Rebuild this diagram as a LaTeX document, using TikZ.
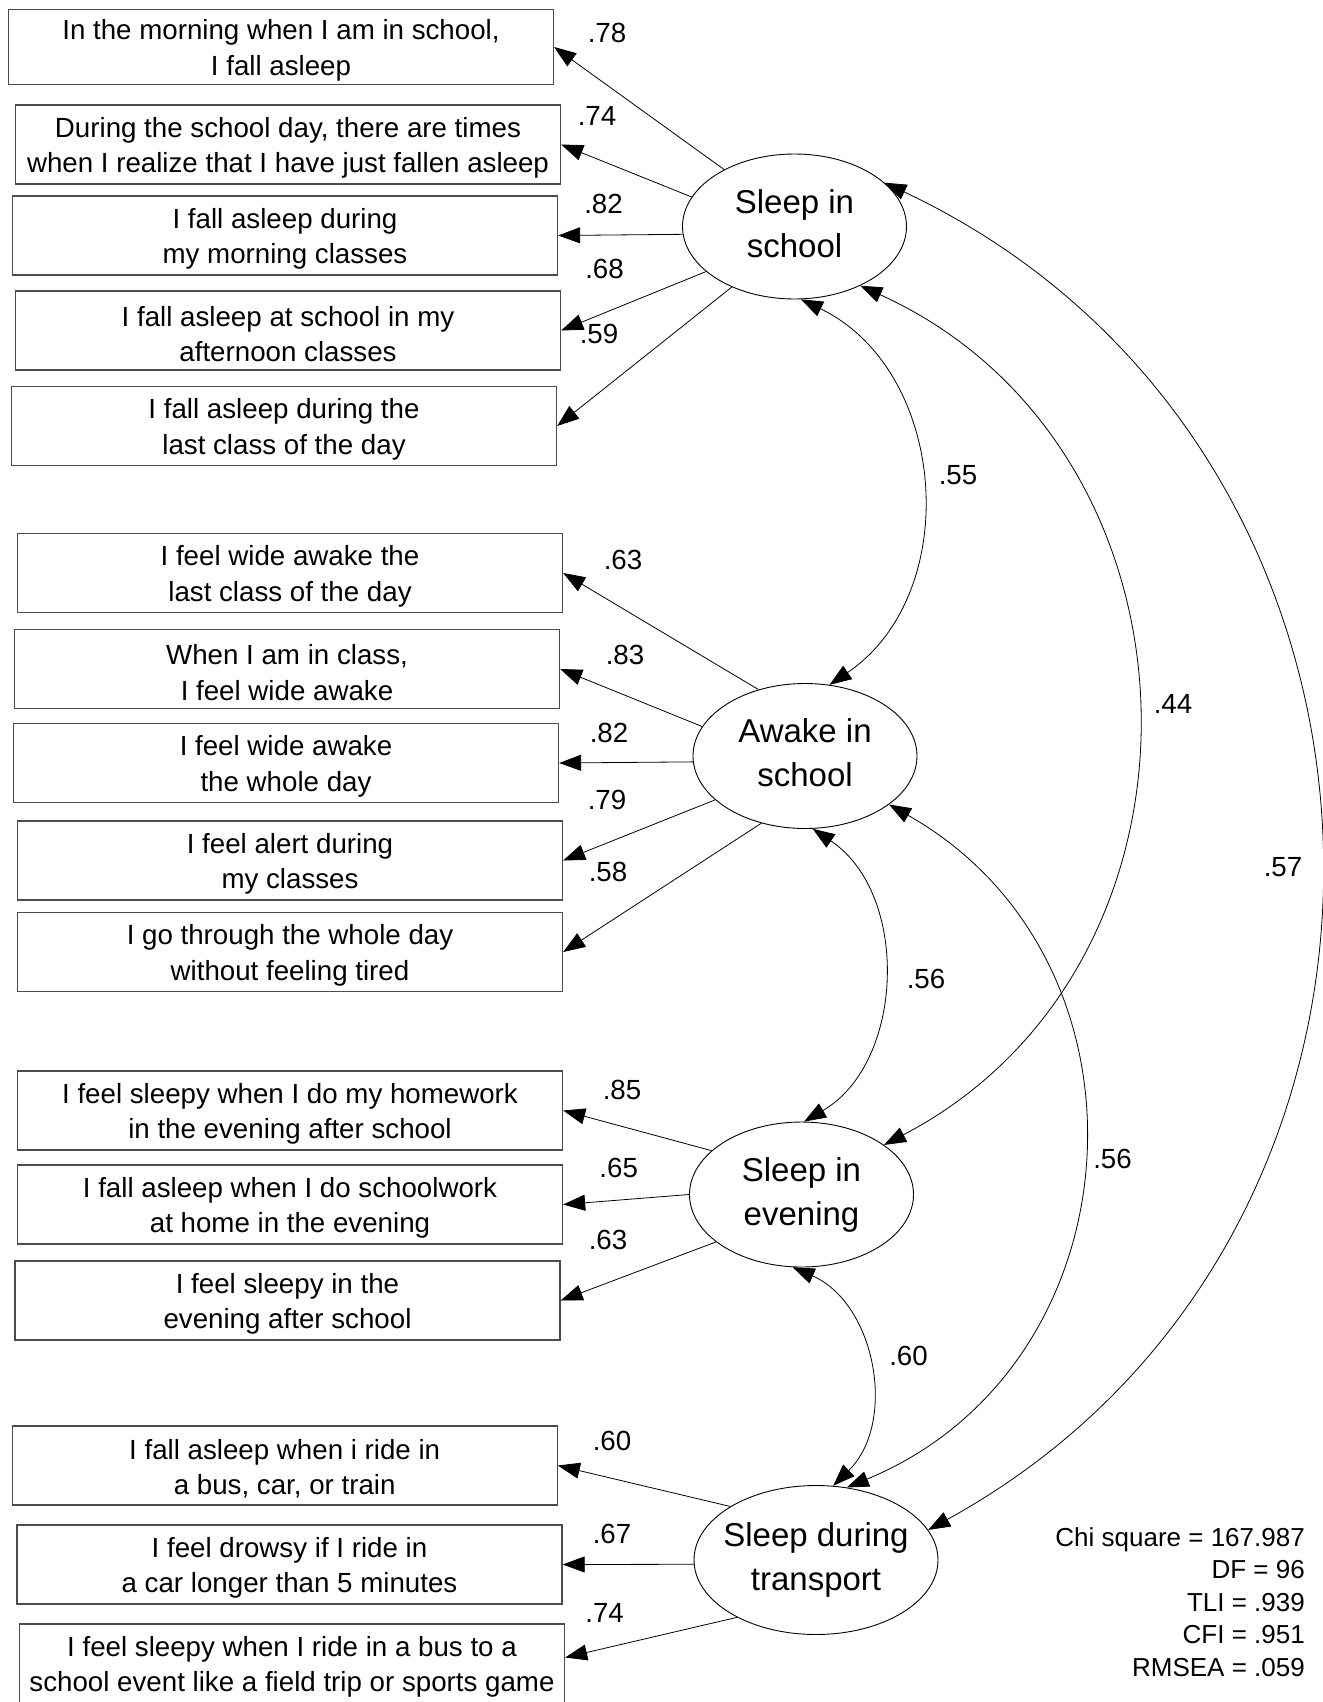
\documentclass[tikz,border=0pt]{standalone}
\usepackage{fontspec}
\setmainfont{Liberation Sans}
\usetikzlibrary{arrows.meta,shapes.geometric}
\newcommand\itemstrut{\rule{0pt}{27pt}}
\begin{document}
\begin{tikzpicture}[x=1pt,y=-1pt,
  item/.style={draw=black!70, line width=1.3pt, minimum width=545pt, minimum height=79pt, inner sep=0pt, align=center, font=\fontsize{27.7}{35.5}\selectfont},
  latent/.style={draw=black, line width=0.9pt, ellipse, minimum width=224pt, minimum height=145pt, inner sep=0pt, font=\fontsize{33}{44}\selectfont},
  load/.style={line width=0.8pt, -{Triangle[length=22pt,width=16pt]}},
  cov/.style={line width=0.8pt, {Triangle[length=22pt,width=16pt]}-{Triangle[length=22pt,width=16pt]}},
  coef/.style={font=\fontsize{27.7}{33}\selectfont, inner sep=0pt}
]
\useasboundingbox[fill=white] (0,0) rectangle (1322,1702);

% indicator boxes
\node[item, minimum height=75pt] (b1) at (281,47) {\itemstrut In the morning when I am in school,\\I fall asleep};
\node[item] (b2) at (288,144.5) {\itemstrut During the school day, there are times\\when I realize that I have just fallen asleep};
\node[item] (b3) at (285,235.5) {\itemstrut I fall asleep during\\my morning classes};
\node[item] (b4) at (288,330.5) {\itemstrut I fall asleep at school in my\\afternoon classes};
\node[item] (b5) at (284,426) {\itemstrut I fall asleep during the\\last class of the day};
\node[item] (b6) at (290,573) {\itemstrut I feel wide awake the\\last class of the day};
\node[item] (b7) at (287,669) {\itemstrut When I am in class,\\I feel wide awake};
\node[item] (b8) at (286,763) {\itemstrut I feel wide awake\\the whole day};
\node[item] (b9) at (290,860.5) {\itemstrut I feel alert during\\my classes};
\node[item] (b10) at (290,952) {\itemstrut I go through the whole day\\without feeling tired};
\node[item] (b11) at (290,1110.5) {\itemstrut I feel sleepy when I do my homework\\in the evening after school};
\node[item] (b12) at (290,1204.5) {\itemstrut I fall asleep when I do schoolwork\\at home in the evening};
\node[item] (b13) at (287.5,1300.5) {\itemstrut I feel sleepy in the\\evening after school};
\node[item] (b14) at (284.7,1465.5) {\itemstrut I fall asleep when i ride in\\a bus, car, or train};
\node[item] (b15) at (289.5,1564.5) {\itemstrut I feel drowsy if I ride in\\a car longer than 5 minutes};
\node[item] (b16) at (292,1663.5) {\itemstrut I feel sleepy when I ride in a bus to a\\school event like a field trip or sports game};

% latent variables
\node[latent] (ss) at (794.5,226.5) {\makebox[0pt]{\begin{tabular}{@{}c@{}}Sleep in\\school\end{tabular}}};
\node[latent] (aw) at (805,756) {\makebox[0pt]{\begin{tabular}{@{}c@{}}Awake in\\school\end{tabular}}};
\node[latent] (ev) at (801.5,1194.5) {\makebox[0pt]{\begin{tabular}{@{}c@{}}Sleep in\\evening\end{tabular}}};
\node[latent, minimum width=244pt, minimum height=149pt] (tr) at (816,1560) {\makebox[0pt]{\begin{tabular}{@{}c@{}}Sleep during\\transport\end{tabular}}};

% loadings
\draw[load] (ss.141) -- (b1.east);
\draw[load] (ss.164) -- (b2.east);
\draw[load] (ss.184) -- (b3.east);
\draw[load] (ss.207) -- (b4.east);
\draw[load] (ss.224) -- (b5.east);
\draw[load] (aw.125) -- (b6.east);
\draw[load] (aw.164) -- (b7.east);
\draw[load] (aw.183) -- (b8.east);
\draw[load] (aw.206) -- (b9.east);
\draw[load] (aw.237) -- (b10.east);
\draw[load] (ev.154) -- (b11.east);
\draw[load] (ev.180) -- (b12.east);
\draw[load] (ev.209) -- (b13.east);
\draw[load] (tr.148) -- (b14.east);
\draw[load] (tr.182) -- (b15.east);
\draw[load] (tr.216) -- ([yshift=6pt]b16.east);

% covariances
\draw[cov] (ss.275) to[bend left=60, looseness=1.08] (aw.71);
\draw[cov] (ss.318) to[bend left=64, looseness=1.165] (ev.31);
\draw[cov] (ss.26) .. controls +(-25.2:617pt) and +(28.8:617pt) .. (tr.15);
\draw[cov] (aw.276) to[bend left=58, looseness=1.02] (ev.88);
\draw[cov] (aw.330) to[bend left=64, looseness=1.19] (tr.67);
\draw[cov] (ev.263) to[bend left=56, looseness=1.04] (tr.77);

% coefficients
\node[coef] (c1) at (607,32.6) {.78};
\node[coef] (c2) at (597,116) {.74};
\node[coef] (c3) at (603.5,204) {.82};
\node[coef] (c4) at (604.5,269) {.68};
\node[coef] (c5) at (599,334) {.59};
\node[coef] (c6) at (623,560) {.63};
\node[coef] (c7) at (625,654.5) {.83};
\node[coef] (c8) at (609,732.6) {.82};
\node[coef] (c9) at (607,800) {.79};
\node[coef] (c10) at (608,871.6) {.58};
\node[coef] (c11) at (622,1090) {.85};
\node[coef] (c12) at (618.7,1168) {.65};
\node[coef] (c13) at (608,1239.5) {.63};
\node[coef] (c14) at (612,1441) {.60};
\node[coef] (c15) at (612,1533.7) {.67};
\node[coef] (c16) at (604.6,1613) {.74};
\node[coef] (r1) at (958,475) {.55};
\node[coef] (r2) at (1173,704) {.44};
\node[coef] (r3) at (1283,867) {.57};
\node[coef] (r4) at (926,979) {.56};
\node[coef] (r5) at (1112.5,1159) {.56};
\node[coef] (r6) at (908.5,1355.7) {.60};

% fit statistics
\node[anchor=east, align=right, inner sep=0pt, font=\fontsize{26}{32.5}\selectfont] (stats) at (1305,1602) {Chi square = 167.987\\DF = 96\\TLI = .939\\CFI = .951\\RMSEA = .059};
\end{tikzpicture}
\end{document}
